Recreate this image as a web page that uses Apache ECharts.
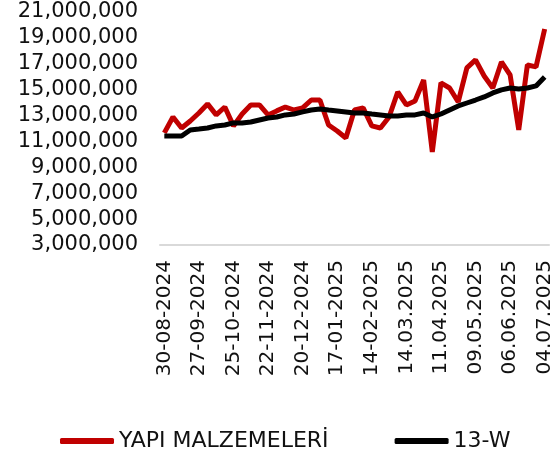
<!DOCTYPE html>
<html>
<head>
<meta charset="utf-8">
<script src="https://cdn.jsdelivr.net/npm/echarts@6/dist/echarts.min.js"></script>
<style>
  html, body { margin: 0; padding: 0; background: #fff; }
  #chart { width: 555px; height: 461px; }
</style>
</head>
<body>
<div id="chart"></div>
<script>
// haftalik tarihler
var weeks = [
  '30-08-2024','06-09-2024','13-09-2024','20-09-2024','27-09-2024','04-10-2024','11-10-2024','18-10-2024',
  '25-10-2024','01-11-2024','08-11-2024','15-11-2024','22-11-2024','29-11-2024','06-12-2024','13-12-2024',
  '20-12-2024','27-12-2024','03-01-2025','10-01-2025','17-01-2025','24-01-2025','31-01-2025','07-02-2025',
  '14-02-2025','21-02-2025','28-02-2025','07.03.2025','14.03.2025','21.03.2025','28.03.2025','04.04.2025',
  '11.04.2025','18.04.2025','25.04.2025','02.05.2025','09.05.2025','16.05.2025','23.05.2025','30.05.2025',
  '06.06.2025','13.06.2025','20.06.2025','27.06.2025','04.07.2025'
];

var yapiMalzemeleri = [
  11660000,12890000,12040000,12580000,13200000,13900000,13050000,13660000,
  12200000,13120000,13820000,13820000,13050000,13360000,13660000,13430000,
  13590000,14200000,14200000,12270000,11810000,11270000,13430000,13590000,
  12200000,12040000,12890000,14820000,13820000,14130000,15750000,10190000,
  15520000,15130000,14050000,16680000,17300000,16060000,15130000,17140000,
  16140000,11890000,16910000,16760000,19690000
];

var ortalama13W = [
  11420000,11420000,11420000,11890000,11960000,12040000,12200000,12270000,
  12430000,12430000,12500000,12660000,12810000,12890000,13050000,13120000,
  13280000,13430000,13510000,13430000,13360000,13280000,13200000,13200000,
  13120000,13050000,12970000,12970000,13050000,13050000,13200000,12890000,
  13120000,13430000,13740000,13970000,14200000,14440000,14750000,14980000,
  15130000,15060000,15130000,15290000,15980000
];

var seriesNames = ['YAPI MALZEMELERİ', '13-W'];

var font = 'DejaVu Sans';

var chart = echarts.init(document.getElementById('chart'));
chart.setOption({
  animation: false,
  grid: { left: 160, right: 6, top: 12, bottom: 216 },
  legend: {
    data: seriesNames,
    left: 55,
    top: 425,
    itemWidth: 54,
    itemHeight: 6,
    itemGap: 66,
    icon: 'roundRect',
    textStyle: { fontFamily: font, fontSize: 22, color: '#111' }
  },
  xAxis: {
    type: 'category',
    data: weeks,
    boundaryGap: true,
    axisLine: { lineStyle: { color: '#d9d9d9', width: 2 } },
    axisTick: { show: false },
    axisLabel: {
      interval: 3,
      rotate: 90,
      margin: 15,
      fontFamily: font,
      fontSize: 20,
      color: '#111'
    }
  },
  yAxis: {
    type: 'value',
    min: 3000000,
    max: 21000000,
    interval: 2000000,
    axisLine: { show: false },
    axisTick: { show: false },
    splitLine: { show: false },
    axisLabel: {
      margin: 22,
      fontFamily: font,
      fontSize: 21,
      color: '#111',
      formatter: function (v) { return v.toLocaleString('en-US'); }
    }
  },
  series: [
    {
      name: seriesNames[0],
      type: 'line',
      data: yapiMalzemeleri,
      symbol: 'none',
      lineStyle: { color: '#c00000', width: 5 },
      itemStyle: { color: '#c00000' }
    },
    {
      name: seriesNames[1],
      type: 'line',
      data: ortalama13W,
      symbol: 'none',
      lineStyle: { color: '#000', width: 5 },
      itemStyle: { color: '#000' }
    }
  ]
});
</script>
</body>
</html>
